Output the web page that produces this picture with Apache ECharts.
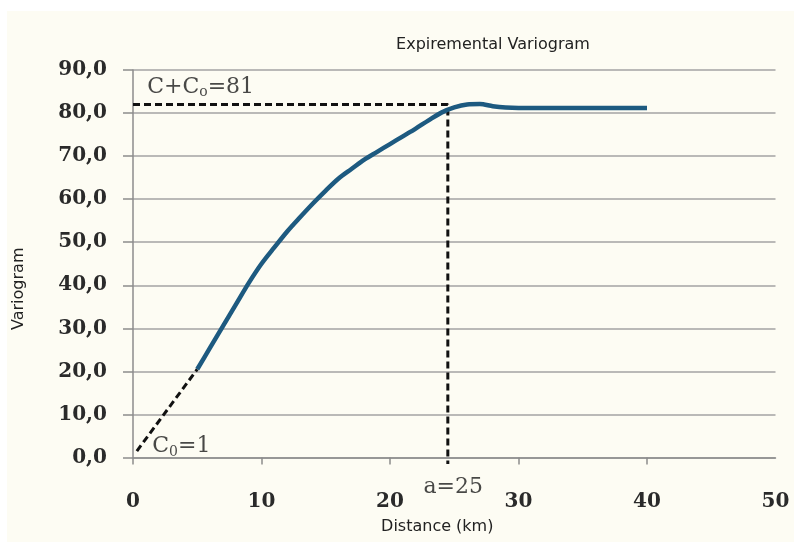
<!DOCTYPE html>
<html>
<head>
<meta charset="utf-8">
<script src="https://cdn.jsdelivr.net/npm/echarts@6/dist/echarts.min.js"></script>
<style>
html,body{margin:0;padding:0;background:#ffffff;}
#chart{width:794px;height:542px;}
</style>
</head>
<body>
<div id="chart"></div>
<script>
// ---- data ----
const distance = [5,6,7,8,9,10,11,12,13,14,15,16,17,18,19,20,21,22,23,24,25,26,27,28,29,30,32,34,36,38,40];
const variogram = [20.5,25.5,30.5,35.5,40.5,45,48.8,52.5,55.8,59,62,64.8,67,69.2,71,72.8,74.6,76.4,78.3,80.1,81.3,82,82.1,81.6,81.3,81.2,81.2,81.2,81.2,81.2,81.2];
const nuggetLineX = [0.3, 5];
const nuggetLineY = [1.5, 20.5];
const sillRangeX = [0, 24.5, 24.5];
const sillRangeY = [82, 82, -1.5];
const yTicks = [0,10,20,30,40,50,60,70,80,90];
const xTicks = [0,10,20,30,40,50];
const annotations = [
  {x: 1.1, y: 86.1, text: '{m|C+C}{s|o}{m|=81}'},
  {x: 1.5, y: 2.6, text: '{m|C}{s|0}{m|=1}'},
  {x: 22.6, y: -6.9, text: '{m|a=25}'}
];

const pair = (xs, ys) => xs.map((x, i) => [x, ys[i]]);

const chart = echarts.init(document.getElementById('chart'), null, {renderer: 'canvas'});
chart.setOption({
  backgroundColor: '#ffffff',
  animation: false,
  graphic: [{
    type: 'rect', z: -10, silent: true,
    shape: {x: 7, y: 11, width: 794, height: 542},
    style: {fill: '#fdfcf3'}
  }],
  title: {
    text: 'Expiremental Variogram',
    left: 488, top: 32, textAlign: 'center',
    textStyle: {fontFamily: 'DejaVu Sans', fontSize: 16, fontWeight: 'normal', color: '#222'}
  },
  grid: {left: 133, right: 18.5, top: 70, bottom: 84.5, containLabel: false, outerBoundsMode: 'none'},
  xAxis: {
    type: 'value', min: xTicks[0], max: xTicks[xTicks.length - 1], interval: 10,
    name: 'Distance (km)', nameLocation: 'middle', nameGap: 61,
    nameTextStyle: {fontFamily: 'DejaVu Sans', fontSize: 16, color: '#222', padding: [0, 34, 0, 0]},
    axisLine: {show: true, lineStyle: {color: '#8c8c8c', width: 1.5}},
    axisTick: {show: true, length: 7, lineStyle: {color: '#8c8c8c', width: 1.5}, customValues: [0,10,20,30,40]},
    axisLabel: {margin: 34, fontFamily: 'DejaVu Serif', fontWeight: 'bold', fontSize: 20, color: '#2a2a2a'},
    splitLine: {show: false}
  },
  yAxis: {
    type: 'value', min: yTicks[0], max: yTicks[yTicks.length - 1], interval: 10,
    name: 'Variogram', nameLocation: 'middle', nameGap: 106, nameRotate: 90,
    nameTextStyle: {fontFamily: 'DejaVu Sans', fontSize: 16, color: '#222', padding: [0, 50, 0, 0]},
    axisLine: {show: true, lineStyle: {color: '#8c8c8c', width: 1.5}},
    axisTick: {show: true, inside: false, length: 10, lineStyle: {color: '#8c8c8c', width: 1.5}},
    axisLabel: {
      margin: 26, fontFamily: 'DejaVu Serif', fontWeight: 'bold', fontSize: 20, color: '#2a2a2a',
      formatter: v => v.toFixed(1).replace('.', ',')
    },
    splitLine: {show: true, lineStyle: {color: '#a3a3a3', width: 1.5}}
  },
  series: [
    {
      type: 'line', name: 'nugget', data: pair(nuggetLineX, nuggetLineY),
      symbol: 'none', clip: false, z: 3,
      lineStyle: {color: '#111', width: 3, type: [7, 4]}
    },
    {
      type: 'line', name: 'sill-range', data: pair(sillRangeX, sillRangeY),
      symbol: 'none', clip: false, z: 3,
      lineStyle: {color: '#111', width: 3, type: [7, 4]}
    },
    {
      type: 'line', name: 'Variogram', data: pair(distance, variogram),
      symbol: 'none', smooth: 0.3, z: 5,
      lineStyle: {color: '#1d5a80', width: 4.5}
    },
    {
      type: 'scatter', name: 'labels', symbolSize: 0, clip: false, z: 6,
      data: annotations.map(a => ({value: [a.x, a.y], label: {formatter: a.text}})),
      label: {
        show: true, position: 'right', distance: 0,
        rich: {
          m: {fontFamily: 'DejaVu Serif', fontSize: 22, color: '#1a1a1a', lineHeight: 26},
          s: {fontFamily: 'DejaVu Serif', fontSize: 14, color: '#1a1a1a', lineHeight: 14, verticalAlign: 'bottom'}
        }
      }
    }
  ]
});
</script>
</body>
</html>
